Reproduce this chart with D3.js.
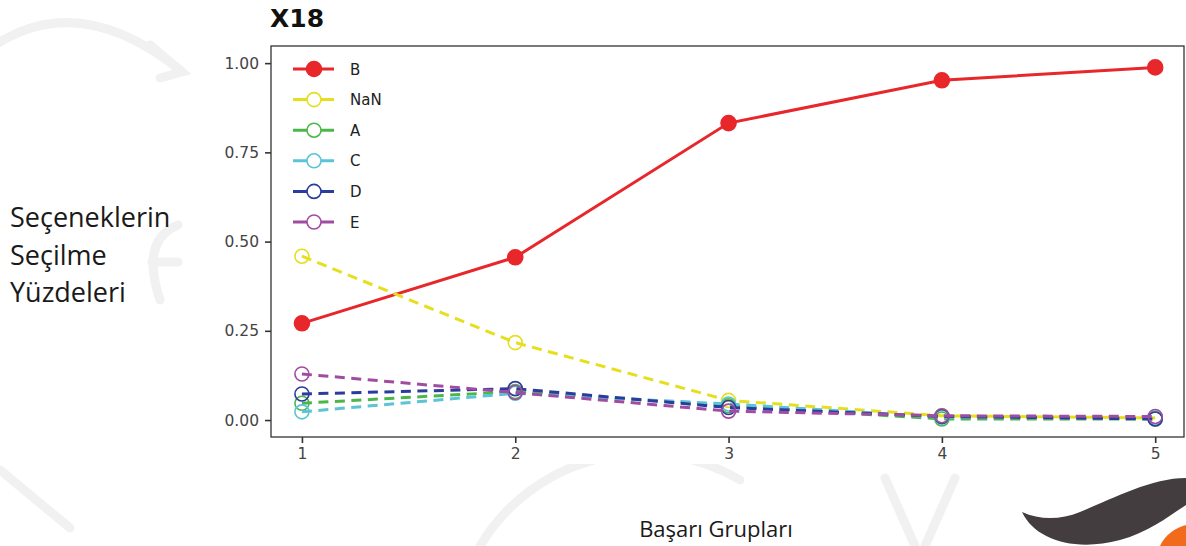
<!DOCTYPE html>
<html>
<head>
<meta charset="utf-8">
<script src="https://cdn.jsdelivr.net/npm/d3@7"></script>
<style>
  html, body { margin: 0; padding: 0; background: #ffffff; }
  svg { display: block; }
</style>
</head>
<body>
<svg id="chart" width="1186" height="546"></svg>
<script>
// ---- data ----
const groups = [1, 2, 3, 4, 5];
const seriesNames = ["B", "NaN", "A", "C", "D", "E"];
const valuesB   = [0.271, 0.456, 0.832, 0.952, 0.988];
const valuesNaN = [0.459, 0.217, 0.055, 0.012, 0.006];
const valuesA   = [0.047, 0.080, 0.040, 0.003, 0.003];
const valuesC   = [0.023, 0.075, 0.045, 0.008, 0.005];
const valuesD   = [0.073, 0.088, 0.035, 0.010, 0.003];
const valuesE   = [0.129, 0.077, 0.025, 0.012, 0.010];
const yTicks = [0, 0.25, 0.5, 0.75, 1.0];
const title = "X18";
const yLabelLines = ["Seçeneklerin", "Seçilme", "Yüzdeleri"];
const xLabel = "Başarı Grupları";

const colors = {B: "#e8272b", NaN: "#e6df1e", A: "#4cb749", C: "#5bc4d6", D: "#2a3c9c", E: "#a04ca2"};
const valueMap = {B: valuesB, NaN: valuesNaN, A: valuesA, C: valuesC, D: valuesD, E: valuesE};

const svg = d3.select("#chart");

// ---- faint background watermark ----
const wm = svg.append("g").attr("fill", "none").attr("stroke", "#f1f1f1").attr("stroke-width", 9).attr("stroke-linecap", "round");
wm.append("path").attr("d", "M-5,45 Q80,-10 180,70");
wm.append("path").attr("d", "M150,45 L182,72 L160,78");
wm.append("path").attr("d", "M0,470 L70,528");
wm.append("path").attr("d", "M480,546 A190,190 0 0 1 740,480");
wm.append("path").attr("d", "M885,478 L915,546");
wm.append("path").attr("d", "M955,478 L925,546");
wm.append("path").attr("d", "M160,300 Q140,240 178,225");
wm.append("path").attr("d", "M152,262 L178,262");

// figure white area
svg.append("rect").attr("x", 196).attr("y", 0).attr("width", 990).attr("height", 464).attr("fill", "#ffffff");

// ---- scales ----
const pLeft = 271, pRight = 1184, pTop = 46, pBottom = 437;
const x = d3.scaleLinear().domain([0.855, 5.135]).range([pLeft, pRight]);
const y = d3.scaleLinear().domain([-0.0475, 1.048]).range([pBottom, pTop]);

// ---- axes ----
const yAxis = svg.append("g").attr("transform", `translate(${pLeft},0)`)
  .call(d3.axisLeft(y).tickValues(yTicks).tickFormat(d3.format(".2f")).tickSize(6).tickPadding(6));
const xAxis = svg.append("g").attr("transform", `translate(0,${pBottom})`)
  .call(d3.axisBottom(x).tickValues(groups).tickFormat(d3.format("d")).tickSize(6).tickPadding(5));
[yAxis, xAxis].forEach(g => {
  g.select(".domain").remove();
  g.selectAll(".tick line").attr("stroke", "#333").attr("stroke-width", 1.6);
  g.selectAll(".tick text").attr("fill", "#444").style("font-family", "DejaVu Sans").style("font-size", "15.5px");
});

// ---- lines ----
const line = d3.line().x((d, i) => x(groups[i])).y(d => y(d));
const plot = svg.append("g");
seriesNames.forEach(name => {
  const vals = valueMap[name];
  plot.append("path").datum(vals)
    .attr("d", line)
    .attr("fill", "none")
    .attr("stroke", colors[name])
    .attr("stroke-width", 3)
    .attr("stroke-dasharray", name === "B" ? null : "10,6.5");
  plot.selectAll(null).data(vals).enter().append("circle")
    .attr("cx", (d, i) => x(groups[i]))
    .attr("cy", d => y(d))
    .attr("r", name === "B" ? 7.5 : 7)
    .attr("fill", name === "B" ? colors[name] : "none")
    .attr("stroke", colors[name])
    .attr("stroke-width", 1.6);
});

// frame
svg.append("rect").attr("x", pLeft).attr("y", pTop).attr("width", pRight - pLeft).attr("height", pBottom - pTop)
  .attr("fill", "none").attr("stroke", "#333").attr("stroke-width", 1.3);

// ---- legend ----
const legend = svg.append("g");
seriesNames.forEach((name, i) => {
  const ly = 69 + i * 30.6;
  const g = legend.append("g").attr("transform", `translate(0,${ly})`);
  g.append("line").attr("x1", 293).attr("x2", 334).attr("y1", 0).attr("y2", 0)
    .attr("stroke", colors[name]).attr("stroke-width", 3);
  g.append("circle").attr("cx", 314).attr("cy", 0).attr("r", name === "B" ? 7.5 : 7)
    .attr("fill", name === "B" ? colors[name] : "#fff")
    .attr("stroke", colors[name]).attr("stroke-width", 1.6);
  g.append("text").attr("x", 350).attr("y", 5.5).text(name)
    .attr("fill", "#222").style("font-family", "DejaVu Sans").style("font-size", "15px");
});

// ---- title ----
svg.append("text").attr("x", pLeft - 1).attr("y", 27).text(title)
  .style("font-family", "DejaVu Sans").style("font-weight", "bold").style("font-size", "25px").attr("fill", "#111");

// ---- axis labels ----
const yl = svg.append("text").attr("x", 10).attr("fill", "#1a1a1a")
  .style("font-family", "Open Sans").style("font-size", "27px");
yLabelLines.forEach((t, i) => {
  yl.append("tspan").attr("x", 10).attr("y", 227 + i * 37.5).text(t);
});
svg.append("text").attr("x", 716).attr("y", 537).attr("text-anchor", "middle").text(xLabel)
  .attr("fill", "#1a1a1a").style("font-family", "Open Sans").style("font-size", "22px");

// ---- logo (bottom right) ----
svg.append("path").attr("d", "M1022,512 C1035,540 1075,552 1120,540 C1150,532 1170,515 1186,505 L1186,478 C1150,478 1110,500 1080,512 C1060,520 1040,520 1022,512 Z")
  .attr("fill", "#433d40");
svg.append("path").attr("d", "M1160,546 C1165,535 1175,528 1186,525 L1186,546 Z").attr("fill", "#f26a1b");
</script>
</body>
</html>
